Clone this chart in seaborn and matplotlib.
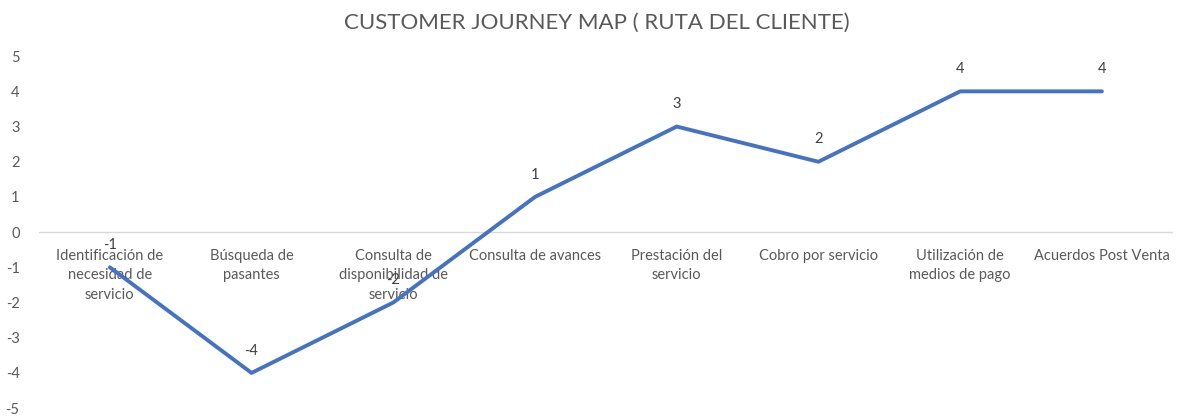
import matplotlib
matplotlib.use("Agg")
import matplotlib.pyplot as plt
import seaborn as sns
import pandas as pd

# chart data
etapas = [
    "Identificación de\nnecesidad de\nservicio",
    "Búsqueda de\npasantes",
    "Consulta de\ndisponibilidad de\nservicio",
    "Consulta de avances",
    "Prestación del\nservicio",
    "Cobro por servicio",
    "Utilización de\nmedios de pago",
    "Acuerdos Post Venta",
]
valores = [-1, -4, -2, 1, 3, 2, 4, 4]
y_ticks = [-5, -4, -3, -2, -1, 0, 1, 2, 3, 4, 5]

TEXT_COLOR = "#595959"
LINE_COLOR = "#4472C4"

sns.set_style("white")
plt.rcParams["font.family"] = ["Lato", "DejaVu Sans"]

df = pd.DataFrame({"pos": range(len(etapas)), "valor": valores})

fig = plt.figure(figsize=(11.81, 4.16), dpi=100)
ax = fig.add_axes([0.033, 0.019, 0.960, 0.846])

sns.lineplot(data=df, x="pos", y="valor", ax=ax, color=LINE_COLOR,
             linewidth=2.8, zorder=3)

ax.set_xlim(-0.5, len(etapas) - 0.5)
ax.set_ylim(-5, 5)
ax.set_yticks(y_ticks)
ax.set_yticklabels([str(v) for v in y_ticks])
ax.tick_params(axis="y", length=0, pad=14, labelsize=10.5, labelcolor=TEXT_COLOR)
ax.set_xticks([])
ax.set_xlabel("")
ax.set_ylabel("")
for s in ax.spines.values():
    s.set_visible(False)

# zero line acting as category axis
ax.axhline(0, color="#D9D9D9", linewidth=1, zorder=1)

# category labels just below the zero line
for i, etq in enumerate(etapas):
    ax.annotate(etq, (i, 0), xytext=(0, -12), textcoords="offset points",
                ha="center", va="top", fontsize=10.5, color=TEXT_COLOR,
                linespacing=1.5, zorder=2)

# data labels
for i, v in enumerate(valores):
    ax.annotate(str(v), (i, v), xytext=(0, 11), textcoords="offset points",
                ha="center", va="bottom", fontsize=10.5, color="#404040",
                zorder=4)

fig.text(0.505, 0.945, "CUSTOMER JOURNEY MAP ( RUTA DEL CLIENTE)",
         ha="center", va="center", fontsize=16, color=TEXT_COLOR)

fig.savefig("out.png", dpi=100)
